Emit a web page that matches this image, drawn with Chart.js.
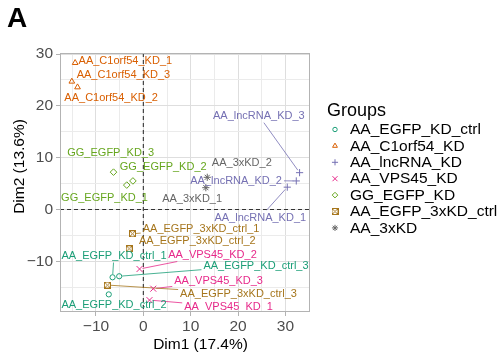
<!DOCTYPE html>
<html>
<head>
<meta charset="utf-8">
<script src="https://cdn.jsdelivr.net/npm/chart.js@4.4.1/dist/chart.umd.min.js"></script>
<style>
  html, body { margin: 0; padding: 0; background: #fff; }
  #wrap { position: relative; width: 503px; height: 357px; }
</style>
</head>
<body>
<div id="wrap"><canvas id="pcaChart" width="503" height="357"></canvas></div>
<script>
var groups = ['AA_EGFP_KD_ctrl', 'AA_C1orf54_KD', 'AA_lncRNA_KD', 'AA_VPS45_KD', 'GG_EGFP_KD', 'AA_EGFP_3xKD_ctrl', 'AA_3xKD'];
var groupColors = ['#1b9e77', '#d95f02', '#7570b3', '#e7298a', '#66a61e', '#a6761d', '#666666'];

var sampleNames = [
  'AA_EGFP_KD_ctrl_1', 'AA_EGFP_KD_ctrl_2', 'AA_EGFP_KD_ctrl_3',
  'AA_C1orf54_KD_1', 'AA_C1orf54_KD_2', 'AA_C1orf54_KD_3',
  'AA_lncRNA_KD_1', 'AA_lncRNA_KD_2', 'AA_lncRNA_KD_3',
  'AA_VPS45_KD_1', 'AA_VPS45_KD_2', 'AA_VPS45_KD_3',
  'GG_EGFP_KD_1', 'GG_EGFP_KD_2', 'GG_EGFP_KD_3',
  'AA_EGFP_3xKD_ctrl_1', 'AA_EGFP_3xKD_ctrl_2', 'AA_EGFP_3xKD_ctrl_3',
  'AA_3xKD_1', 'AA_3xKD_2'
];
var sampleGroup = [0, 0, 0, 1, 1, 1, 2, 2, 2, 3, 3, 3, 4, 4, 4, 5, 5, 5, 6, 6];
var dim1 = [-6.5, -7.3, -5.1, -14.4, -13.9, -15.1, 30.4, 32.3, 33.0, 1.3, -0.8, 2.1, -3.5, -2.2, -6.3, -2.3, -3.0, -7.6, 13.2, 13.5];
var dim2 = [-13.1, -16.4, -12.9, 28.3, 23.6, 24.7, 4.3, 5.5, 7.1, -17.5, -11.5, -15.3, 4.7, 5.5, 7.2, -4.7, -7.6, -14.6, 4.2, 6.2];

// repelled label positions (data units) and whether a leader line is drawn
var labelDim1 = [-6.2, -6.2, 23.8, -3.8, -6.8, -4.2, 24.7, 19.6, 24.4, 18.0, 14.6, 15.9, -8.2, 4.2, -6.9, 12.2, 11.4, 20.1, 10.3, 20.8];
var labelDim2 = [-8.9, -18.4, -10.8, 28.8, 21.7, 26.0, -1.5, 5.6, 18.1, -18.8, -8.7, -13.8, 2.3, 8.2, 11.0, -3.6, -6.0, -16.2, 2.1, 9.1];
var hasLeader = [1, 0, 1, 0, 0, 0, 1, 1, 1, 1, 1, 1, 0, 0, 0, 1, 0, 1, 0, 0];

var xTicks = [-15, -10, -5, 0, 5, 10, 15, 20, 25, 30, 35];
var yTicks = [-15, -10, -5, 0, 5, 10, 15, 20, 25, 30];

var FONT = '"Liberation Sans", Arial, Helvetica, sans-serif';

function squareCross(color) {
  var c = document.createElement('canvas');
  c.width = 7; c.height = 7;
  var g = c.getContext('2d');
  g.strokeStyle = color;
  g.lineWidth = 1;
  g.strokeRect(0.5, 0.5, 6, 6);
  g.beginPath();
  g.moveTo(0.5, 0.5); g.lineTo(6.5, 6.5);
  g.moveTo(6.5, 0.5); g.lineTo(0.5, 6.5);
  g.stroke();
  return c;
}

var shapes = ['circle', 'triangle', 'cross', 'crossRot', 'rectRot', squareCross(groupColors[5]), 'star'];
var radii = [2.6, 3.3, 3.6, 4.2, 3.3, 3.5, 3.6];

var datasets = groups.map(function(g, gi) {
  var pts = [];
  sampleNames.forEach(function(n, i) {
    if (sampleGroup[i] === gi) pts.push({ x: dim1[i], y: dim2[i], idx: i });
  });
  return {
    label: g,
    data: pts,
    pointStyle: shapes[gi],
    pointRadius: radii[gi],
    pointHoverRadius: radii[gi],
    borderColor: groupColors[gi],
    backgroundColor: 'rgba(0,0,0,0)',
    pointBorderWidth: 1
  };
});

function tickText(v) {
  if (v % 10 !== 0) return '';
  return v < 0 ? '\u2212' + (-v) : String(v);
}

function gridColor(c) { return c.tick.value % 10 === 0 ? '#dedede' : '#ebebeb'; }
function tickColor(c) { return c.tick.value % 10 === 0 ? '#b3b3b3' : 'rgba(0,0,0,0)'; }

var pcaDecor = {
  id: 'pcaDecor',
  beforeDatasetsDraw: function(chart) {
    var ctx = chart.ctx, a = chart.chartArea;
    var xs = chart.scales.x, ys = chart.scales.y;
    var x0 = xs.getPixelForValue(0), y0 = ys.getPixelForValue(0);
    ctx.save();
    ctx.strokeStyle = '#333';
    ctx.lineWidth = 1.1;
    ctx.setLineDash([4, 3]);
    ctx.beginPath();
    ctx.moveTo(x0, a.top); ctx.lineTo(x0, a.bottom);
    ctx.moveTo(a.left, y0); ctx.lineTo(a.right, y0);
    ctx.stroke();
    ctx.setLineDash([]);

    // leader segments from label box to point
    ctx.font = '11px ' + FONT;
    ctx.lineWidth = 0.8;
    sampleNames.forEach(function(name, i) {
      if (!hasLeader[i]) return;
      var px = xs.getPixelForValue(dim1[i]), py = ys.getPixelForValue(dim2[i]);
      var lx = xs.getPixelForValue(labelDim1[i]), ly = ys.getPixelForValue(labelDim2[i]);
      var hw = ctx.measureText(name).width / 2 + 2, hh = 7;
      var dx = px - lx, dy = py - ly;
      var t = Math.min(dx ? hw / Math.abs(dx) : Infinity, dy ? hh / Math.abs(dy) : Infinity);
      if (t >= 1) return;
      var sx = lx + dx * t, sy = ly + dy * t;
      var len = Math.hypot(px - sx, py - sy);
      var ex = px - (px - sx) / len * 3, ey = py - (py - sy) / len * 3;
      ctx.strokeStyle = groupColors[sampleGroup[i]];
      ctx.beginPath();
      ctx.moveTo(sx, sy); ctx.lineTo(ex, ey);
      ctx.stroke();
    });
    ctx.restore();
  },
  afterDatasetsDraw: function(chart) {
    var ctx = chart.ctx;
    var xs = chart.scales.x, ys = chart.scales.y;
    ctx.save();
    ctx.font = '11px ' + FONT;
    ctx.textAlign = 'center';
    ctx.textBaseline = 'middle';
    sampleNames.forEach(function(name, i) {
      ctx.fillStyle = groupColors[sampleGroup[i]];
      ctx.fillText(name, xs.getPixelForValue(labelDim1[i]), ys.getPixelForValue(labelDim2[i]) + 0.5);
    });
    ctx.restore();
  },
  afterDraw: function(chart) {
    var ctx = chart.ctx, a = chart.chartArea;
    ctx.save();
    // panel border
    ctx.strokeStyle = '#b3b3b3';
    ctx.lineWidth = 1;
    ctx.strokeRect(Math.round(a.left) + 0.5, Math.round(a.top) + 0.5, Math.round(a.right - a.left) - 1, Math.round(a.bottom - a.top) - 1);

    // axis titles
    ctx.fillStyle = '#000';
    ctx.font = '15.5px ' + FONT;
    ctx.textAlign = 'center';
    ctx.textBaseline = 'alphabetic';
    ctx.fillText('Dim1 (17.4%)', 200.5, 349);
    ctx.save();
    ctx.translate(24, 166.5);
    ctx.rotate(-Math.PI / 2);
    ctx.fillText('Dim2 (13.6%)', 0, 0);
    ctx.restore();

    // panel tag
    ctx.textAlign = 'left';
    ctx.font = 'bold 28px ' + FONT;
    ctx.fillText('A', 7, 27);

    // legend
    ctx.font = '18px ' + FONT;
    ctx.fillText('Groups', 327, 116);
    ctx.font = '15.5px ' + FONT;
    ctx.textBaseline = 'middle';
    chart.data.datasets.forEach(function(ds, i) {
      var cy = 129.5 + i * 16.4;
      ctx.strokeStyle = ds.borderColor;
      ctx.fillStyle = 'rgba(0,0,0,0)';
      ctx.lineWidth = 1;
      Chart.helpers.drawPoint(ctx, { pointStyle: ds.pointStyle, radius: ds.pointRadius * 0.85, rotation: 0, borderWidth: 1 }, 335, cy);
      ctx.fillStyle = '#000';
      ctx.fillText(ds.label, 350, cy + 0.5);
    });
    ctx.restore();
  }
};

new Chart(document.getElementById('pcaChart'), {
  type: 'scatter',
  data: { datasets: datasets },
  plugins: [pcaDecor],
  options: {
    responsive: false,
    animation: false,
    devicePixelRatio: 1,
    layout: { padding: { top: 53, left: 0, right: 193, bottom: 0 } },
    plugins: { legend: { display: false }, tooltip: { enabled: false } },
    scales: {
      x: {
        type: 'linear',
        min: -17.6, max: 35.2,
        afterBuildTicks: function(s) { s.ticks = xTicks.map(function(v) { return { value: v }; }); },
        afterFit: function(s) { s.height = 45; },
        grid: { color: gridColor, tickColor: tickColor, lineWidth: 1, tickLength: 4 },
        border: { display: false },
        ticks: { callback: tickText, color: '#4d4d4d', font: { family: FONT, size: 15.5 }, padding: 1, maxRotation: 0, autoSkip: false }
      },
      y: {
        type: 'linear',
        min: -19.8, max: 30.2,
        afterBuildTicks: function(s) { s.ticks = yTicks.map(function(v) { return { value: v }; }); },
        afterFit: function(s) { s.width = 60; },
        grid: { color: gridColor, tickColor: tickColor, lineWidth: 1, tickLength: 4 },
        border: { display: false },
        ticks: { callback: tickText, color: '#4d4d4d', font: { family: FONT, size: 15.5 }, padding: 3, autoSkip: false }
      }
    }
  }
});
</script>
</body>
</html>
